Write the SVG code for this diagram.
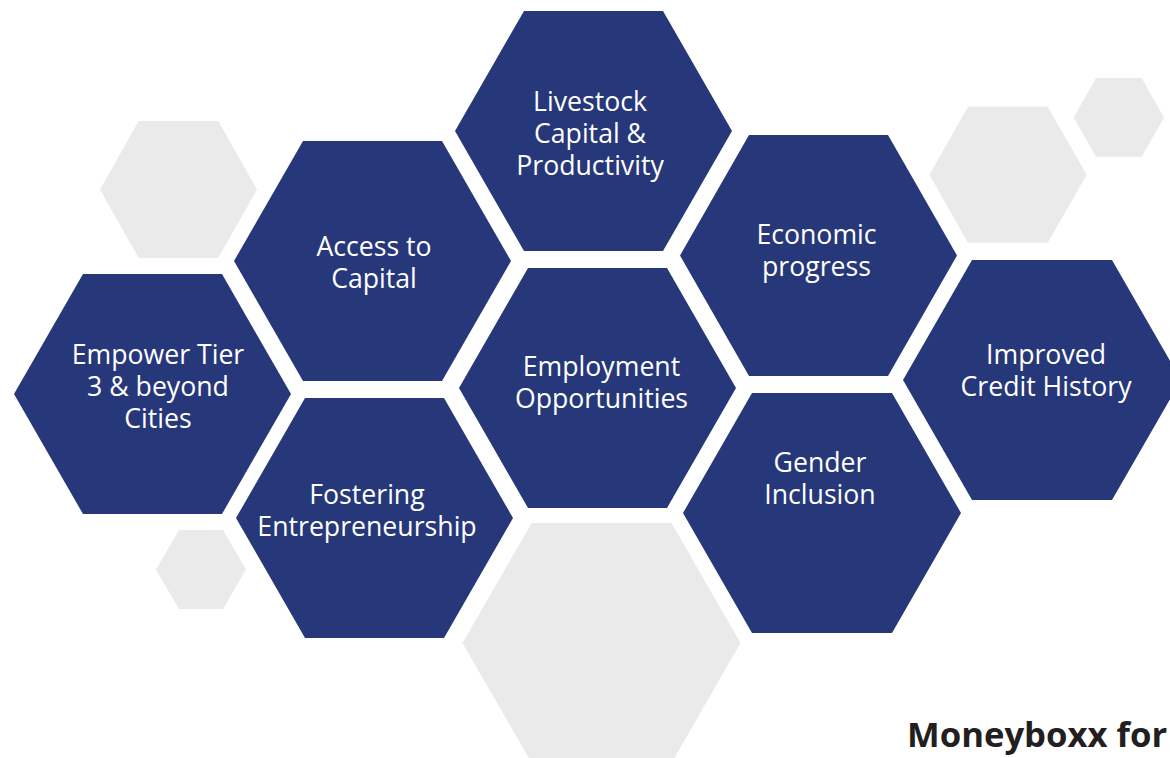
<svg xmlns="http://www.w3.org/2000/svg" width="1170" height="758" viewBox="0 0 1170 758">
<style>
.n{fill:#27387A}.g{fill:#EAEAEA}
text{font-family:"Open Sans","Noto Sans",sans-serif}
.t{fill:#fff;font-size:26.67px;text-anchor:middle}
.b{fill:#231F20;font-size:34.67px;font-weight:700}
</style>
<rect width="1170" height="758" fill="#fff"/>
<g id="bg-hexagons">
<polygon class="g" points="100,189.5 138.7,121 218.3,121 257,189.5 218.3,258 138.7,258"/>
<polygon class="g" points="156,569.5 179,530 223,530 246,569.5 223,609 179,609"/>
<polygon class="g" points="929.500,174.700 968,106.700 1047.700,106.700 1086.700,174.700 1047.700,242.700 968,242.700"/>
<polygon class="g" points="1073.700,117.500 1096,78 1141.700,78 1164,117.500 1141.700,156.700 1096,156.700"/>
<polygon class="g" points="462.500,643 531.700,523 671.500,523 740.500,643 671.500,763 531.700,763"/>
</g>
<g id="connectors"></g>
<g id="empower"><polygon class="n" points="14,394 83,274 222,274 291,394 222,514 83,514"/>
<text class="t" x="158" y="364">Empower Tier</text><text class="t" x="158" y="396">3 &amp; beyond</text><text class="t" x="158" y="428">Cities</text></g>
<g id="access"><polygon class="n" points="234,261 303,141 442,141 511,261 442,381 303,381"/>
<text class="t" x="374" y="256">Access to</text><text class="t" x="374" y="288">Capital</text></g>
<g id="fostering"><polygon class="n" points="236,518 305,398 444,398 513,518 444,638 305,638"/>
<text class="t" x="367" y="504">Fostering</text><text class="t" x="367" y="536">Entrepreneurship</text></g>
<g id="livestock"><polygon class="n" points="455,131 524,11 663,11 732,131 663,251 524,251"/>
<text class="t" x="590" y="111">Livestock</text><text class="t" x="590" y="143">Capital &amp;</text><text class="t" x="590" y="175">Productivity</text></g>
<g id="employment"><polygon class="n" points="459,388 528,268 667,268 736,388 667,508 528,508"/>
<text class="t" x="601.500" y="376">Employment</text><text class="t" x="601.500" y="408">Opportunities</text></g>
<g id="economic"><polygon class="n" points="680,255.500 749,135 888,135 957,255.500 888,376 749,376"/>
<text class="t" x="816.500" y="243.500">Economic</text><text class="t" x="816.500" y="275.500">progress</text></g>
<g id="gender"><polygon class="n" points="683,513 752,393 892,393 961,513 892,633 752,633"/>
<text class="t" x="820" y="472">Gender</text><text class="t" x="820" y="504">Inclusion</text></g>
<g id="improved"><polygon class="n" points="903,380 972,260 1112,260 1181,380 1112,500 972,500"/>
<text class="t" x="1046" y="364">Improved</text><text class="t" x="1046" y="396">Credit History</text></g>
<text class="b" x="907" y="747">Moneyboxx for</text>
</svg>
